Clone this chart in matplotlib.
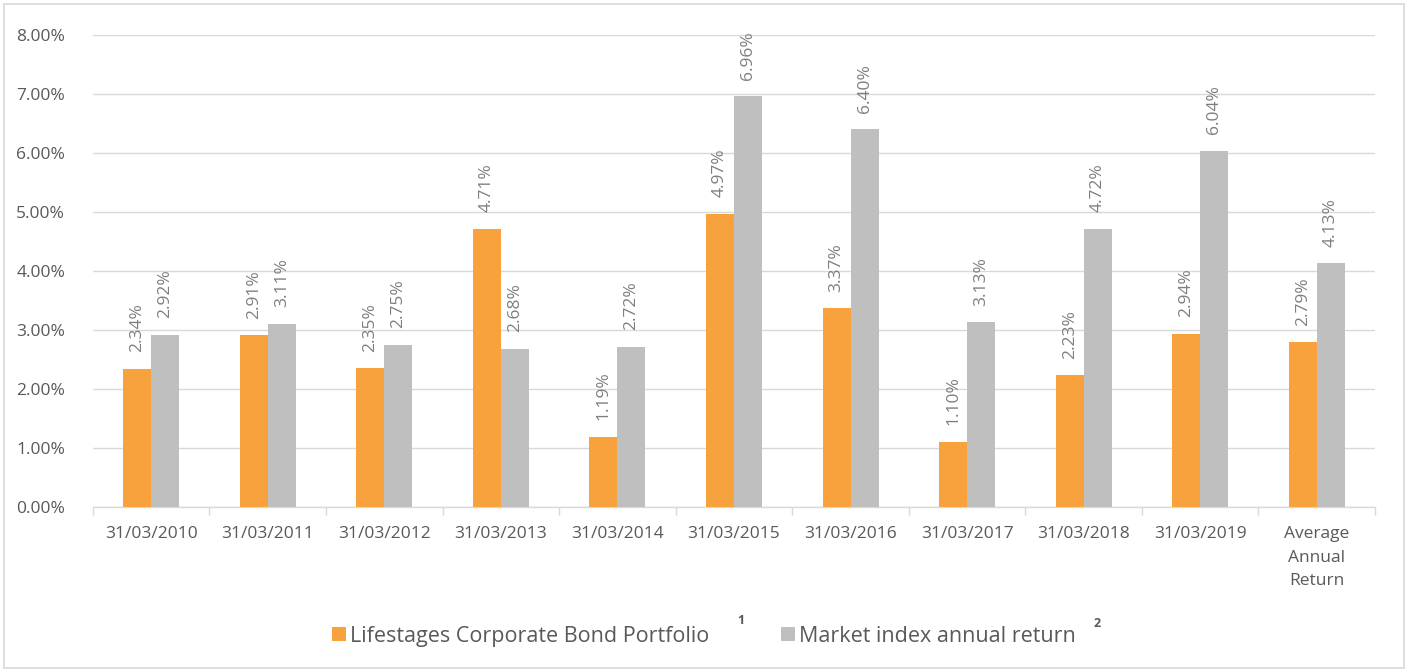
import matplotlib.pyplot as plt
import numpy as np
from matplotlib.patches import Rectangle
from matplotlib.ticker import FuncFormatter, MultipleLocator

plt.rcParams['font.family'] = ['Open Sans', 'DejaVu Sans']

categories = ["31/03/2010", "31/03/2011", "31/03/2012", "31/03/2013", "31/03/2014",
              "31/03/2015", "31/03/2016", "31/03/2017", "31/03/2018", "31/03/2019",
              "Average\nAnnual\nReturn"]
portfolio = [2.34, 2.91, 2.35, 4.71, 1.19, 4.97, 3.37, 1.10, 2.23, 2.94, 2.79]
market = [2.92, 3.11, 2.75, 2.68, 2.72, 6.96, 6.40, 3.13, 4.72, 6.04, 4.13]
series_names = ["Lifestages Corporate Bond Portfolio", "Market index annual return"]

orange = "#F7A23C"
grey = "#BFBFBF"
text_col = "#595959"
grid_col = "#D9D9D9"

fig = plt.figure(figsize=(14.08, 6.71), dpi=100)
ax = fig.add_axes([0.066, 0.2444, 0.9106, 0.7034])

x = np.arange(len(categories))
w = 0.24
b1 = ax.bar(x - w / 2, portfolio, w, color=orange, label=series_names[0], zorder=3)
b2 = ax.bar(x + w / 2, market, w, color=grey, label=series_names[1], zorder=3)

# value labels, rotated, sitting a little above each bar
for bars, vals in ((b1, portfolio), (b2, market)):
    for rect, v in zip(bars, vals):
        ax.annotate(f"{v:.2f}%", (rect.get_x() + rect.get_width() / 2, v),
                    xytext=(0, 12), textcoords="offset points",
                    rotation=90, ha="center", va="bottom", fontsize=12.5, color="#7F7F7F")

ax.set_xlim(-0.5, len(categories) - 0.5)
ax.set_ylim(0, 8)
ax.yaxis.set_major_locator(MultipleLocator(1))
ax.yaxis.set_major_formatter(FuncFormatter(lambda v, _: f"{v:.2f}%"))
ax.grid(axis="y", color=grid_col, lw=1, zorder=0)
for s in ["top", "right", "left"]:
    ax.spines[s].set_visible(False)
ax.spines["bottom"].set_color(grid_col)
ax.spines["bottom"].set_linewidth(1)

ax.set_xticks(x)
ax.set_xticklabels(categories, linespacing=1.6)
ax.set_xticks(np.arange(len(categories) + 1) - 0.5, minor=True)
ax.tick_params(axis="x", which="major", length=0, pad=14, labelsize=12.5, labelcolor=text_col)
ax.tick_params(axis="x", which="minor", length=6, color=grid_col, width=1)
ax.tick_params(axis="y", length=0, pad=20, labelsize=12.5, labelcolor=text_col)

leg = fig.legend(handles=[b1, b2], loc="center", bbox_to_anchor=(0.5, 0.052), ncol=2,
                 frameon=False, fontsize=15.5, handlelength=0.65, handleheight=0.65,
                 handletextpad=0.2, columnspacing=3.3, labelcolor=text_col)
fig.text(0.5265, 0.07, "1", fontsize=9, color=text_col, weight="bold", ha="center")
fig.text(0.779, 0.066, "2", fontsize=9, color=text_col, weight="bold", ha="center")

fig.patches.append(Rectangle((0.003, 0.005), 0.994, 0.989, transform=fig.transFigure,
                             fill=False, edgecolor=grid_col, lw=1.2))

fig.savefig("out.png", dpi=100)
